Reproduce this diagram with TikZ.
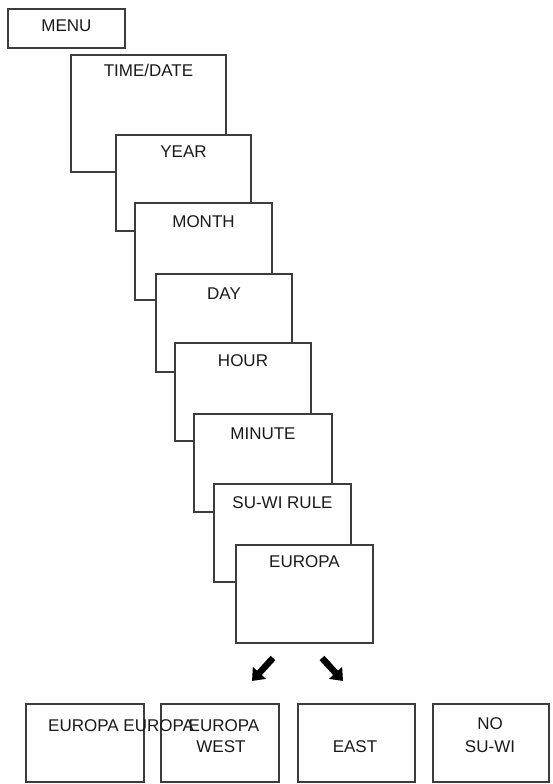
\documentclass[tikz,border=0pt]{standalone}
\usepackage{fontspec}
\setmainfont{Liberation Sans}
\usetikzlibrary{arrows.meta}
\definecolor{ln}{HTML}{3C3C3C}
\definecolor{tx}{HTML}{1A1A1A}
\begin{document}
\begin{tikzpicture}[x=1pt,y=-1pt,
  box/.style={draw=ln, line width=2pt, fill=white, rectangle, inner sep=0pt, outer sep=0pt, anchor=north west},
  lbl/.style={text=tx, inner sep=0pt, font=\fontsize{17}{21}\selectfont},
  blockarrow/.style={line width=6.5pt, draw=black, -{Triangle[length=11pt,width=17pt]}}]
\useasboundingbox (0,0) rectangle (553,784);
% menu
\node[box, minimum width=117pt, minimum height=39pt] (menu) at (8,9) {};
\node[lbl, anchor=base] (menul) at ([yshift=-23pt]menu.north) {MENU};
% cascade
\node[box, minimum width=155pt, minimum height=117pt] (td) at (71,55) {};
\node[lbl, anchor=base] (tdl) at ([yshift=-22pt]td.north) {TIME/DATE};
\node[box, minimum width=135pt, minimum height=96pt] (year) at (116,135) {};
\node[lbl, anchor=base] (yearl) at ([yshift=-22pt]year.north) {YEAR};
\node[box, minimum width=137pt, minimum height=97pt] (month) at (135,203) {};
\node[lbl, anchor=base] (monthl) at ([yshift=-24pt]month.north) {MONTH};
\node[box, minimum width=136pt, minimum height=98pt] (day) at (156,274) {};
\node[lbl, anchor=base] (dayl) at ([yshift=-25pt]day.north) {DAY};
\node[box, minimum width=136pt, minimum height=98pt] (hour) at (175,343) {};
\node[lbl, anchor=base] (hourl) at ([yshift=-23pt]hour.north) {HOUR};
\node[box, minimum width=138pt, minimum height=98pt] (minute) at (194,414) {};
\node[lbl, anchor=base] (minutel) at ([yshift=-25pt]minute.north) {MINUTE};
\node[box, minimum width=137pt, minimum height=98pt] (suwi) at (214,484) {};
\node[lbl, anchor=base] (suwil) at ([yshift=-24pt]suwi.north) {SU-WI RULE};
\node[box, minimum width=137pt, minimum height=98pt] (europa) at (236,545) {};
\node[lbl, anchor=base] (europal) at ([yshift=-22pt]europa.north) {EUROPA};
% arrows
\coordinate (a1s) at (273,658);
\coordinate (a1e) at (252,681);
\coordinate (a2s) at (322,658);
\coordinate (a2e) at (343,681);
\draw[blockarrow] (a1s) -- (a1e);
\draw[blockarrow] (a2s) -- (a2e);
% bottom boxes
\node[box, minimum width=118pt, minimum height=78pt] (b1) at (26,704) {};
\node[box, minimum width=118pt, minimum height=78pt] (b2) at (161,704) {};
\node[box, minimum width=117pt, minimum height=78pt] (b3) at (298,704) {};
\node[box, minimum width=116pt, minimum height=78pt] (b4) at (433,704) {};
\node[lbl, anchor=base west] (b1l) at (48,731) {EUROPA EUROPA};
\node[lbl, anchor=base] (b2l1) at (224,731) {EUROPA};
\node[lbl, anchor=base] (b2l2) at (221,752) {WEST};
\node[lbl, anchor=base] (b3l) at (355,752) {EAST};
\node[lbl, anchor=base] (b4l1) at (490,729) {NO};
\node[lbl, anchor=base] (b4l2) at (490,752) {SU-WI};
\end{tikzpicture}
\end{document}
